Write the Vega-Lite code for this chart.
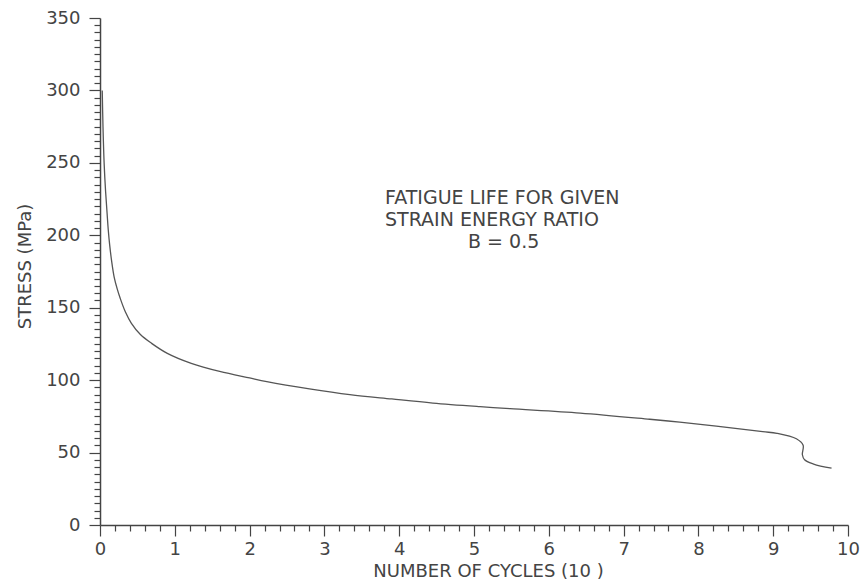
{
  "$schema": "https://vega.github.io/schema/vega-lite/v6.json",
  "width": 748,
  "height": 507,
  "autosize": {"type": "none"},
  "padding": {"left": 100, "top": 18, "right": 15, "bottom": 59},
  "background": "white",
  "config": {"view": {"stroke": null}, "font": "DejaVu Sans"},
  "encoding": {
    "x": {
      "field": "cycles",
      "type": "quantitative",
      "scale": {"domain": [0, 10], "nice": false, "zero": false},
      "axis": {
        "values": [0,0.2,0.4,0.6,0.8,1,1.2,1.4,1.6,1.8,2,2.2,2.4,2.6,2.8,3,3.2,3.4,3.6,3.8,4,4.2,4.4,4.6,4.8,5,5.2,5.4,5.6,5.8,6,6.2,6.4,6.6,6.8,7,7.2,7.4,7.6,7.8,8,8.2,8.4,8.6,8.8,9,9.2,9.4,9.6,9.8,10],
        "labelExpr": "abs(datum.value - round(datum.value)) < 0.001 ? format(datum.value, 'd') : ''",
        "labelOverlap": false,
        "labelFlush": false,
        "tickSize": {"condition": {"test": "abs(datum.value - round(datum.value)) < 0.001", "value": 11}, "value": 6},
        "tickColor": "#444",
        "tickWidth": 1.2,
        "domainColor": "#444",
        "domainWidth": 1.5,
        "labelFont": "DejaVu Sans",
        "labelFontSize": 18,
        "labelColor": "#444",
        "labelPadding": 4,
        "grid": false,
        "title": "NUMBER OF CYCLES (10 )",
        "titleFont": "DejaVu Sans",
        "titleFontSize": 18,
        "titleFontWeight": "normal",
        "titleColor": "#444",
        "titleX": 388,
        "titleY": 46,
        "titleAlign": "center",
        "titleBaseline": "middle"
      }
    },
    "y": {
      "field": "stress",
      "type": "quantitative",
      "scale": {"domain": [0, 350], "nice": false},
      "axis": {
        "values": [0,5,10,15,20,25,30,35,40,45,50,55,60,65,70,75,80,85,90,95,100,105,110,115,120,125,130,135,140,145,150,155,160,165,170,175,180,185,190,195,200,205,210,215,220,225,230,235,240,245,250,255,260,265,270,275,280,285,290,295,300,305,310,315,320,325,330,335,340,345,350],
        "labelExpr": "datum.value % 50 === 0 ? format(datum.value, 'd') : ''",
        "labelOverlap": false,
        "labelFlush": false,
        "tickSize": {"condition": {"test": "datum.value % 50 === 0", "value": 11}, "value": 6},
        "tickColor": "#444",
        "tickWidth": 1.2,
        "domainColor": "#444",
        "domainWidth": 1.5,
        "labelFont": "DejaVu Sans",
        "labelFontSize": 18,
        "labelColor": "#444",
        "labelPadding": 9,
        "grid": false,
        "title": "STRESS (MPa)",
        "titleFont": "DejaVu Sans",
        "titleFontSize": 18,
        "titleFontWeight": "normal",
        "titleColor": "#444",
        "titleAngle": -90,
        "titleX": -75,
        "titleY": 248,
        "titleAlign": "center",
        "titleBaseline": "middle"
      }
    }
  },
  "layer": [
    {
      "data": {
        "values": [
          {"cycles": 0.03, "stress": 300},
          {"cycles": 0.04, "stress": 275},
          {"cycles": 0.055, "stress": 250},
          {"cycles": 0.075, "stress": 230},
          {"cycles": 0.095, "stress": 215},
          {"cycles": 0.11, "stress": 204},
          {"cycles": 0.13, "stress": 193},
          {"cycles": 0.156, "stress": 182},
          {"cycles": 0.19, "stress": 171},
          {"cycles": 0.23, "stress": 163},
          {"cycles": 0.27, "stress": 156.5},
          {"cycles": 0.34, "stress": 147},
          {"cycles": 0.42, "stress": 139.2},
          {"cycles": 0.54, "stress": 131.5},
          {"cycles": 0.69, "stress": 125.4},
          {"cycles": 0.9, "stress": 118.5},
          {"cycles": 1.22, "stress": 111.6},
          {"cycles": 1.6, "stress": 106},
          {"cycles": 2.0, "stress": 101.5},
          {"cycles": 2.23, "stress": 99},
          {"cycles": 2.8, "stress": 94},
          {"cycles": 3.34, "stress": 90},
          {"cycles": 3.9, "stress": 87},
          {"cycles": 4.45, "stress": 84.2},
          {"cycles": 5.08, "stress": 81.7},
          {"cycles": 5.48, "stress": 80.3},
          {"cycles": 6.42, "stress": 77.3},
          {"cycles": 7.35, "stress": 73},
          {"cycles": 7.75, "stress": 71},
          {"cycles": 8.24, "stress": 68.2},
          {"cycles": 8.86, "stress": 64.4},
          {"cycles": 9.05, "stress": 63.3},
          {"cycles": 9.31, "stress": 59.5},
          {"cycles": 9.4, "stress": 55},
          {"cycles": 9.39, "stress": 48.5},
          {"cycles": 9.42, "stress": 45},
          {"cycles": 9.54, "stress": 42.1},
          {"cycles": 9.78, "stress": 39.2}
        ]
      },
      "mark": {"type": "line", "color": "#555", "strokeWidth": 1.3, "interpolate": "catmull-rom"},
      "encoding": {
        "order": {"field": "stress", "type": "quantitative", "sort": "descending"}
      }
    },
    {
      "data": {
        "values": [
          {"cycles": 3.81, "stress": 225.7, "label": "FATIGUE LIFE FOR GIVEN"},
          {"cycles": 3.81, "stress": 210.5, "label": "STRAIN ENERGY RATIO"},
          {"cycles": 4.92, "stress": 195.3, "label": "B = 0.5"}
        ]
      },
      "mark": {"type": "text", "align": "left", "baseline": "middle", "fontSize": 19, "font": "DejaVu Sans", "color": "#444"},
      "encoding": {
        "text": {"field": "label", "type": "nominal"}
      }
    }
  ]
}
